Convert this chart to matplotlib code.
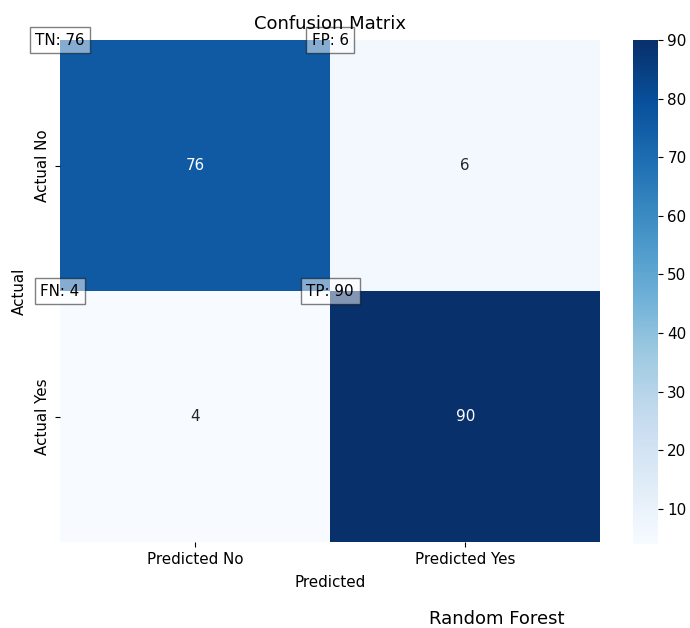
import numpy as np
import matplotlib
matplotlib.use("Agg")
import matplotlib.pyplot as plt
import seaborn as sns

# confusion matrix counts
row_labels = ["Actual No", "Actual Yes"]
col_labels = ["Predicted No", "Predicted Yes"]
counts = [[76, 6],
          [4, 90]]
cell_tags = [["TN", "FP"],
             ["FN", "TP"]]
model_name = "Random Forest"

cm = np.array(counts)

plt.rcParams["font.size"] = 10.9

fig = plt.figure(figsize=(6.9, 6.28), dpi=100)
ax = fig.add_axes([0.087, 0.137, 0.783, 0.799])
cax = fig.add_axes([0.917, 0.134, 0.036, 0.802])

sns.heatmap(cm, annot=True, fmt="d", cmap="Blues", ax=ax, cbar_ax=cax,
            xticklabels=col_labels, yticklabels=row_labels,
            annot_kws={"fontsize": 10.9})

# corner tags for each cell
for i in range(cm.shape[0]):
    for j in range(cm.shape[1]):
        ax.text(j, i, f"{cell_tags[i][j]}: {cm[i, j]}", ha="center", va="center",
                fontsize=10.9, color="black",
                bbox=dict(facecolor="white", alpha=0.5, edgecolor="black"))

ax.set_title("Confusion Matrix", fontsize=13, pad=8)
ax.set_xlabel("Predicted", labelpad=6)
ax.set_ylabel("Actual", labelpad=6)
ax.tick_params(labelsize=10.9)
cax.tick_params(labelsize=10.9)

fig.text(0.72, 0.0, model_name, ha="center", va="bottom", fontsize=13)

fig.savefig("out.png", dpi=100)
